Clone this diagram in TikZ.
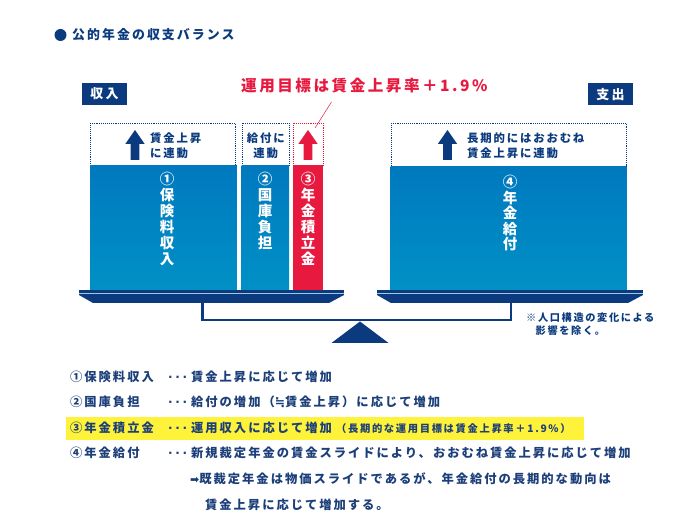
\documentclass[tikz,border=0pt]{standalone}
\usepackage{fontspec}
\setmainfont{Noto Sans CJK JP}[LetterSpace=16]
\newfontfamily\symfont{DejaVu Sans}
\usepackage{tikz}
\usepackage{color}
\usetikzlibrary{positioning}

\definecolor{navy}{HTML}{0B3B7E}
\definecolor{inktext}{HTML}{1C3F7A}
\definecolor{flowblue}{HTML}{0079BF}
\definecolor{flowbluelow}{HTML}{0091C6}
\definecolor{goalred}{HTML}{E8193F}
\definecolor{markyellow}{HTML}{FFF23A}

\tikzset{
  colfill/.style={top color=flowblue, bottom color=flowbluelow},
  linkbox/.style={draw=navy, densely dotted, line width=0.9pt},
  coltext/.style={text=white, font=\bfseries\fontsize{14.5}{16}\selectfont, align=center, anchor=north, inner sep=0pt},
  boxtext/.style={text=navy, font=\bfseries\fontsize{11.4}{15}\selectfont, inner sep=0pt},
  headbox/.style={fill=navy, text=white, font=\bfseries\fontsize{13}{13}\selectfont, minimum width=45pt, minimum height=22pt, inner sep=0pt},
  rowtext/.style={text=inktext, font=\bfseries\fontsize{12.3}{12.3}\selectfont, anchor=west, inner sep=0pt},
}

\begin{document}
\begin{tikzpicture}[x=1pt, y=-1pt]
\useasboundingbox (0,0) rectangle (673,529);

% title
\fill[navy] (60.5,35) circle (6);
\node[text=navy, font=\bfseries\fontsize{12.9}{12.9}\selectfont, anchor=west, inner sep=0pt] (title) at (72,35) {公的年金の収支バランス};

% headers
\node[headbox] (inhead) at (104.5,94) {収入};
\node[headbox] (outhead) at (610.5,94.5) {支出};
\node[text=goalred, font=\bfseries\fontsize{15.6}{15.6}\selectfont, anchor=west, inner sep=0pt] (goal) at (241,86) {運用目標は賃金上昇率＋1.9\%};

% dotted link boxes
\draw[linkbox] (90.7,166) |- (235.7,123.3) -- (235.7,166);
\draw[linkbox] (242.3,166) |- (289,123.3) -- (289,166);
\draw[linkbox, draw=goalred] (293.3,166) |- (323.3,123.3) -- (323.3,166);
\draw[linkbox] (391.7,166) |- (626,123.3) -- (626,166);

% columns
\fill[colfill] (90,165.5) rectangle (236.7,290.7);
\fill[colfill] (241.7,165.5) rectangle (289,290.7);
\fill[goalred] (293,165.5) rectangle (322.7,290.7);
\fill[colfill] (390.7,166.5) rectangle (626.7,290.7);

% arrows
\foreach \ax/\ac in {135/navy, 308/goalred, 447.5/navy}{
	\fill[\ac] (\ax-4.3,160) -- (\ax-4.3,144) -- (\ax-9.7,144) -- (\ax,130) -- (\ax+9.7,144) -- (\ax+4.3,144) -- (\ax+4.3,160) -- cycle;
}

% leader to the reserve
\coordinate (leadtop) at (331.5,102);
\coordinate (leadend) at (315,128);
\draw[goalred, line width=0.5pt] (leadtop) -- (leadend);

% box texts
\node[boxtext, anchor=west, align=left] (wagelink) at (150,145.5) {賃金上昇\\に連動};
\node[boxtext, align=center] (paylink) at (265.8,145.5) {給付に\\連動};
\node[boxtext, anchor=west, align=left] (longlink) at (467,146) {長期的にはおおむね\\賃金上昇に連動};

% column texts
\node[coltext] (premium) at (167,172) {①\\保\\険\\料\\収\\入};
\node[coltext] (treasury) at (265,172) {②\\国\\庫\\負\\担};
\node[coltext] (reserve) at (308,172) {③\\年\\金\\積\\立\\金};
\node[coltext, font=\bfseries\fontsize{14.5}{15.6}\selectfont] (benefit) at (510,175) {④\\年\\金\\給\\付};

% trays
\foreach \l/\r in {79/344, 377/643}{
	\fill[navy] (\l,290.5) rectangle (\r,295.2);
	\draw[white!60!flowblue, line width=0.7pt] (\l,292.9) -- (\r,292.9);
	\fill[navy] (\l,295) -- (\r,295) -- (\r-15,303) -- (\l+14,303) -- cycle;
}
% beam and fulcrum
\draw[navy, line width=2.6pt] (202.5,302) -- (202.5,320) -- (511,320) -- (511,302);
\fill[navy] (360,321.5) -- (388.5,343) -- (331.5,343) -- cycle;

% note
\node[text=navy, font=\bfseries\fontsize{10.2}{12.5}\selectfont, anchor=west, align=left, inner sep=0pt] (note) at (526,324) {※人口構造の変化による\\\hspace*{9.5pt}影響を除く。};

% legend rows
\fill[markyellow] (66,417) rectangle (584,440);
\node[rowtext] (r1) at (70,377) {①保険料収入};
\node[rowtext] (r2) at (70,402) {②国庫負担};
\node[rowtext] (r3) at (70,428) {③年金積立金};
\node[rowtext] (r4) at (70,453) {④年金給付};
\foreach \y in {377, 402, 428, 453}{
	\node[rowtext, anchor=base west, font=\symfont\bfseries\fontsize{12}{12}\selectfont] at (168,\y+4.2) {·\hspace{2.6pt}·\hspace{2.6pt}·};
}
\node[rowtext] (t1) at (191,377) {賃金上昇に応じて増加};
\node[rowtext] (t2) at (191,402) {給付の増加（{\symfont\bfseries ≒}賃金上昇）に応じて増加};
\node[rowtext] (t3) at (191,428) {運用収入に応じて増加};
\node[rowtext, font=\bfseries\fontsize{10.3}{10.3}\selectfont] (t3note) at (336,429) {（長期的な運用目標は賃金上昇率＋1.9\%）};
\node[rowtext] (t4) at (191,453) {新規裁定年金の賃金スライドにより、おおむね賃金上昇に応じて増加};
\node[rowtext] (t5) at (190,479) {{\symfont\fontsize{11}{11}\selectfont ➡}既裁定年金は物価スライドであるが、年金給付の長期的な動向は};
\node[rowtext] (t6) at (205,505) {賃金上昇に応じて増加する。};
\end{tikzpicture}
\end{document}
